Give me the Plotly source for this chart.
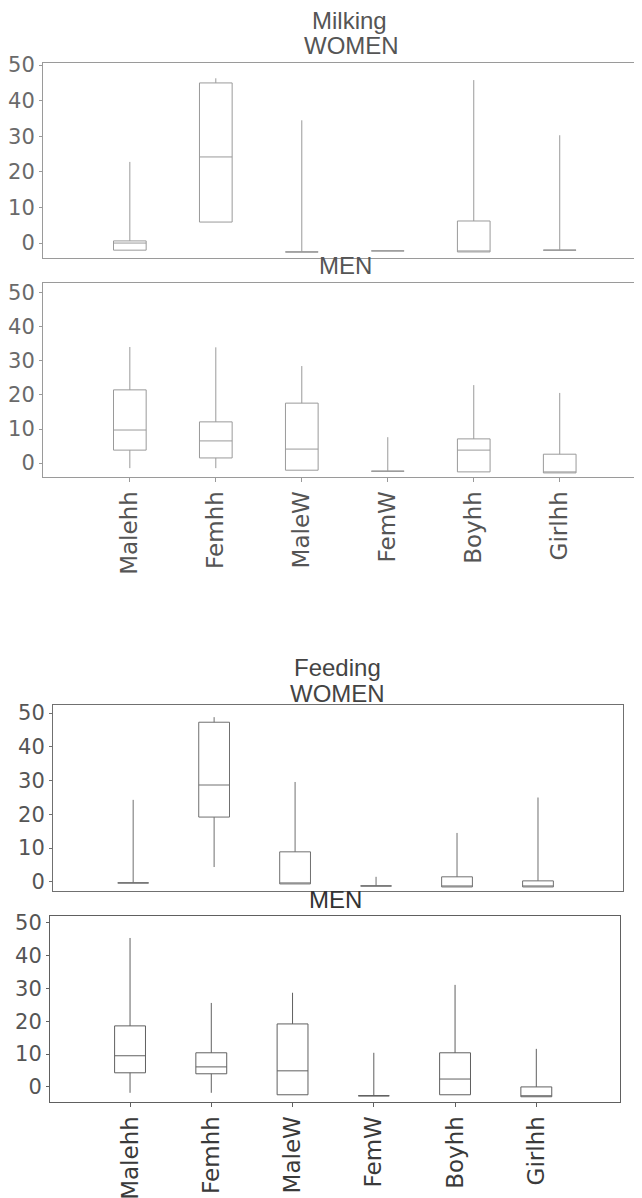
import plotly.graph_objects as go

categories = ["Malehh", "Femhh", "MaleW", "FemW", "Boyhh", "Girlhh"]
positions = [0, 1, 2, 3, 4, 5]
y_ticks = [0, 10, 20, 30, 40, 50]

# Milking - WOMEN
milk_w_low = [-2.0, 5.9, -2.5, -2.2, -2.5, -2.0]
milk_w_q1 = [-2.0, 5.9, -2.5, -2.2, -2.5, -2.0]
milk_w_med = [0.0, 24.2, -2.5, -2.2, -2.5, -2.0]
milk_w_q3 = [0.6, 45.0, -2.5, -2.2, 6.2, -2.0]
milk_w_high = [22.8, 46.3, 34.5, -2.2, 45.8, 30.3]

# Milking - MEN
milk_m_low = [-1.5, -1.5, -2.1, -2.4, -2.6, -2.9]
milk_m_q1 = [3.8, 1.5, -2.1, -2.4, -2.6, -2.9]
milk_m_med = [9.7, 6.5, 4.1, -2.4, 3.8, -2.9]
milk_m_q3 = [21.5, 12.1, 17.6, -2.4, 7.1, 2.6]
milk_m_high = [34.1, 34.0, 28.5, 7.6, 22.9, 20.6]

# Feeding - WOMEN
feed_w_low = [-0.3, 4.4, -0.6, -1.2, -1.5, -1.5]
feed_w_q1 = [-0.3, 19.2, -0.6, -1.2, -1.5, -1.5]
feed_w_med = [-0.3, 28.7, -0.6, -1.2, -1.5, -1.5]
feed_w_q3 = [-0.3, 47.3, 8.9, -1.2, 1.5, 0.3]
feed_w_high = [24.3, 48.8, 29.6, 1.5, 14.5, 25.0]

# Feeding - MEN
feed_m_low = [-1.8, -1.8, -2.4, -2.7, -2.4, -3.0]
feed_m_q1 = [4.3, 4.0, -2.4, -2.7, -2.4, -3.0]
feed_m_med = [9.5, 6.1, 4.9, -2.7, 2.4, -3.0]
feed_m_q3 = [18.6, 10.4, 19.2, -2.7, 10.4, 0.0]
feed_m_high = [45.4, 25.6, 28.7, 10.4, 31.1, 11.6]

H = 1198.0
W = 642.0
OFF = 8  # page body margin

panels = [
    ((milk_w_low, milk_w_q1, milk_w_med, milk_w_q3, milk_w_high), "x", "y", "#9a9a9a",
     (63, 258), (43, 650), [-1.01, 6.05], [-4.2, 50.6], False, False),
    ((milk_m_low, milk_m_q1, milk_m_med, milk_m_q3, milk_m_high), "x2", "y2", "#9a9a9a",
     (283, 477), (43, 650), [-1.01, 6.05], [-4.1, 52.9], True, False),
    ((feed_w_low, feed_w_q1, feed_w_med, feed_w_q3, feed_w_high), "x3", "y3", "#707070",
     (705, 891), (53, 623), [-0.99, 6.05], [-2.7, 52.4], False, True),
    ((feed_m_low, feed_m_q1, feed_m_med, feed_m_q3, feed_m_high), "x4", "y4", "#606060",
     (916, 1102), (50, 620), [-0.985, 6.03], [-4.6, 52.1], True, True),
]

fig = go.Figure()
layout = {}
for i, (stats, xa, ya, col, ydom, xdom, xr, yr, showx, mirror) in enumerate(panels):
    low, q1, med, q3, high = stats
    fig.add_trace(go.Box(
        x=positions, lowerfence=low, q1=q1, median=med, q3=q3, upperfence=high,
        xaxis=xa, yaxis=ya, width=0.38, whiskerwidth=0,
        line=dict(color=col, width=1), fillcolor="rgba(255,255,255,0)",
        boxpoints=False, showlegend=False, hoverinfo="skip",
    ))
    sfx = "" if i == 0 else str(i + 1)
    x0 = (xdom[0] - OFF) / W
    x1 = min(1.0, (xdom[1] - OFF) / W)
    layout["xaxis" + sfx] = dict(
        domain=[x0, x1], range=xr, anchor=ya, automargin=False,
        tickvals=positions, ticktext=categories, showticklabels=showx,
        tickangle=-90, ticks="outside" if showx else "", ticklen=4, tickcolor=col,
        tickfont=dict(family="DejaVu Sans", size=23, color="#555555" if i < 2 else "#3a3a3a"),
        showline=True, linecolor=col, linewidth=1, mirror=True,
        showgrid=False, zeroline=False, fixedrange=True,
    )
    layout["yaxis" + sfx] = dict(
        domain=[1 - (ydom[1] - OFF) / H, 1 - (ydom[0] - OFF) / H], range=yr, anchor=xa,
        automargin=False,
        tickvals=y_ticks, ticks="outside", ticklen=3, tickcolor=col,
        tickfont=dict(family="DejaVu Sans", size=21, color="#6a6a6a" if i < 2 else "#555555"),
        showline=True, linecolor=col, linewidth=1, mirror=mirror,
        showgrid=False, zeroline=False, fixedrange=True,
    )

def title(text, x_px, y_px, size, color):
    return dict(text=text, x=(x_px - OFF) / W, y=1 - (y_px - OFF) / H, xref="paper", yref="paper",
                xanchor="center", yanchor="middle", showarrow=False,
                font=dict(family="Liberation Sans, Arial, sans-serif", size=size, color=color))

annotations = [
    title("Milking", 350, 21, 24, "#555555"),
    title("WOMEN", 351, 46, 24, "#555555"),
    title("MEN", 345, 265, 24, "#555555"),
    title("Feeding", 338, 667, 24, "#444444"),
    title("WOMEN", 338, 693, 24, "#444444"),
    title("MEN", 336, 899, 24, "#333333"),
]

fig.update_layout(
    template="none",
    width=642, height=1198,
    margin=dict(l=0, r=0, t=0, b=0, pad=0),
    paper_bgcolor="white", plot_bgcolor="white",
    annotations=annotations,
    **layout,
)

fig.write_html("out.html")
